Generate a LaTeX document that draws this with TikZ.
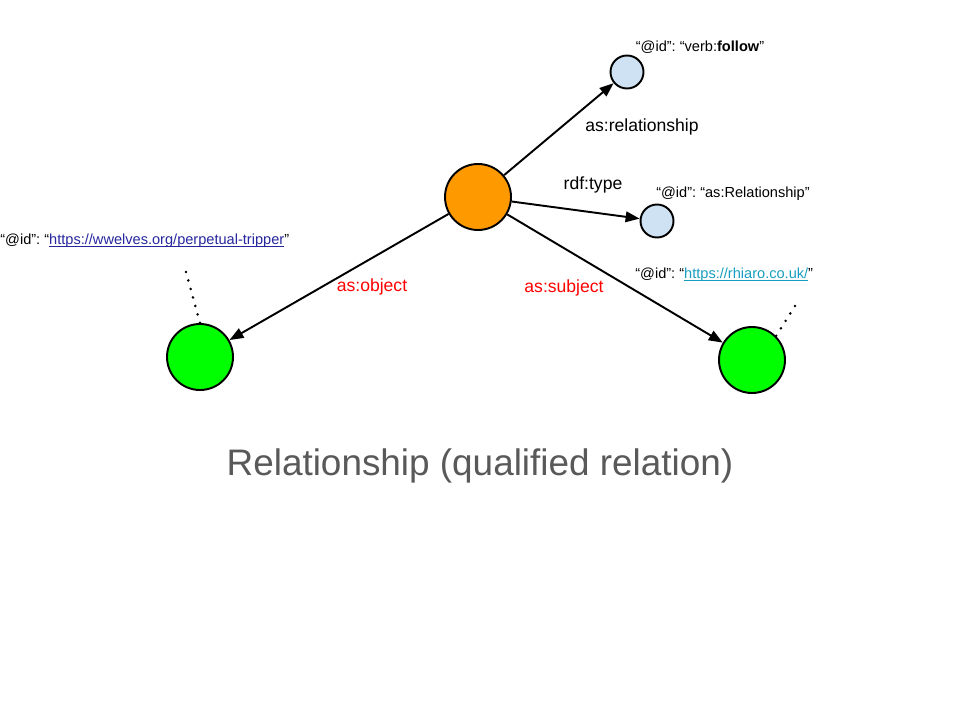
\documentclass[tikz,border=0pt]{standalone}
\usepackage{fontspec}
\setmainfont{Liberation Sans}
\frenchspacing
\usetikzlibrary{arrows.meta, positioning}

\definecolor{actcol}{RGB}{255,153,0}
\definecolor{agentcol}{RGB}{0,255,0}
\definecolor{termcol}{RGB}{207,226,243}
\definecolor{titlecol}{RGB}{89,89,89}
\definecolor{linkA}{RGB}{38,38,158}
\definecolor{linkB}{RGB}{23,158,190}

\newcommand{\lnk}[2]{\textcolor{#1}{\rlap{\rule[-1.2pt]{\widthof{#2}}{0.5pt}}#2}}
\usepackage{calc}

\begin{document}
\begin{tikzpicture}[
    x=0.2mm, y=-0.2mm,
    >={Triangle[length=8pt,width=6pt]},
    res/.style     = {circle, draw, line width=1.1pt, inner sep=0pt},
    activity/.style = {res, fill=actcol, minimum size=66*0.2mm},
    agent/.style   = {res, fill=agentcol, minimum size=66*0.2mm},
    term/.style    = {res, fill=termcol, minimum size=33*0.2mm},
    rel/.style     = {->, line width=1.1pt},
    prop/.style    = {font=\fontsize{10}{12}\selectfont},
    qual/.style    = {prop, text=red},
    ident/.style   = {font=\fontsize{8.3}{10}\selectfont, inner sep=0pt},
    guess/.style   = {line width=1.6pt, line cap=round,
                      dash pattern=on 0pt off 5pt}
  ]
  \useasboundingbox (0,0) rectangle (960,720);

  % -- nodes --------------------------------------------------
  \node[activity] (act)  at (478,197) {};
  \node[term]     (verb) at (627,72)  {};
  \node[term]     (kind) at (657,221) {};
  \node[agent]    (obj)  at (200,357) {};
  \node[agent]    (subj) at (752,360) {};

  % -- identifiers ---------------------------------------------
  \node[ident] (verbid) at (700,47)  {“@id”: “verb:\textbf{follow}”};
  \node[ident] (kindid) at (733,194) {“@id”: “as:Relationship”};
  \node[ident, anchor=west] (objid) at (0,241)
    {“@id”: “\lnk{linkA}{https://wwelves.org/perpetual-tripper}”};
  \node[ident, anchor=west] (subjid) at (635,275)
    {“@id”: “\lnk{linkB}{https://rhiaro.co.uk/}”};

  \coordinate (objdot)  at (186,272);
  \coordinate (subjdot) at (795,306);

  % -- edges ---------------------------------------------------
  \draw[rel] (act) -- (verb);
  \draw[rel] (act) -- (kind);
  \draw[rel] (act) -- (obj);
  \draw[rel] (act) -- (subj);

  \node[prop] (lrel)  at (642,127) {as:relationship};
  \node[prop] (ltype) at (593,185) {rdf:type};
  \node[qual] (lobj)  at (372,287) {as:object};
  \node[qual] (lsubj) at (564,288) {as:subject};

  \draw[guess] (objdot) -- (obj.north);
  \draw[guess] (subjdot) -- (subj.north east);

  % -- caption -------------------------------------------------
  \node[text=titlecol, font=\fontsize{21}{25}\selectfont] (title) at (480,466)
    {Relationship (qualified relation)};
\end{tikzpicture}
\end{document}
